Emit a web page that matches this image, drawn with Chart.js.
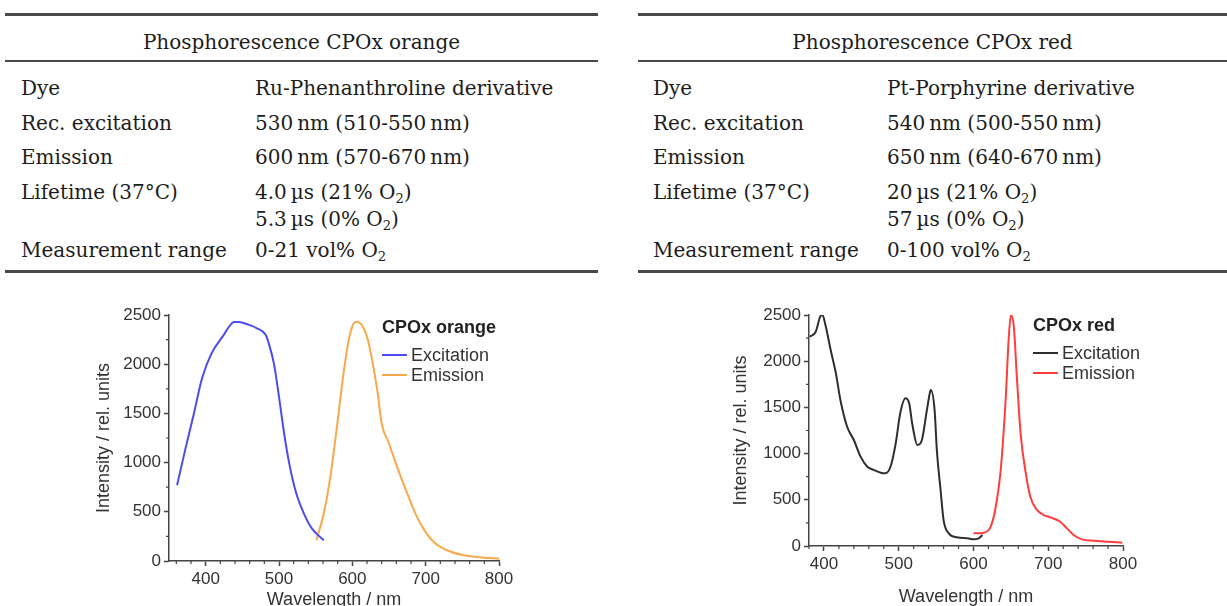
<!DOCTYPE html>
<html>
<head>
<meta charset="utf-8">
<script src="https://cdn.jsdelivr.net/npm/chart.js@4.4.0/dist/chart.umd.min.js"></script>
<style>
  html, body { margin: 0; padding: 0; background: #fff; overflow: hidden; width: 1227px; height: 606px; }
  .tbl { position: absolute; top: 0; height: 280px; font-family: 'DejaVu Serif', serif; font-size: 20px; color: #1c1c1c; }
  .rule { position: absolute; left: 0; right: 0; background: #4a4a4a; }
  .cell { position: absolute; white-space: nowrap; line-height: 1; transform: translateY(-50%); }
  .hdr { position: absolute; white-space: nowrap; line-height: 1; transform: translate(-50%, -50%); }
  sub { font-size: 0.66em; vertical-align: -0.3em; line-height: 0; }
  canvas { position: absolute; }
  .legend { position: absolute; font-family: 'Liberation Sans', Arial, sans-serif; font-size: 18px; color: #333; line-height: 1; }
  .legend .ttl { font-weight: bold; color: #222; margin-bottom: 9px; }
  .legend .row { display: flex; align-items: center; height: 20px; }
  .legend .sw { width: 25px; height: 2px; margin-right: 4px; }
</style>
</head>
<body>
<div id="tblOrange" class="tbl" style="left:5px; width:593px;"></div>
<div id="tblRed" class="tbl" style="left:638px; width:589px;"></div>

<canvas id="chartOrange" width="440" height="320" style="left:80px; top:300px;"></canvas>
<canvas id="chartRed" width="440" height="320" style="left:720px; top:300px;"></canvas>
<div id="legOrange" class="legend" style="left:382px; top:318px;"></div>
<div id="legRed" class="legend" style="left:1033px; top:316px;"></div>

<script>
// table text
const rowLabels = ['Dye', 'Rec. excitation', 'Emission', 'Lifetime (37°C)', '', 'Measurement range'];
const orangeTitle = 'Phosphorescence CPOx orange';
const orangeCells = ['Ru-Phenanthroline derivative', '530\u2009nm (510-550\u2009nm)', '600\u2009nm (570-670\u2009nm)',
  '4.0\u2009µs (21% O<sub>2</sub>)', '5.3\u2009µs (0% O<sub>2</sub>)', '0-21 vol% O<sub>2</sub>'];
const redTitle = 'Phosphorescence CPOx red';
const redCells = ['Pt-Porphyrine derivative', '540\u2009nm (500-550\u2009nm)', '650\u2009nm (640-670\u2009nm)',
  '20\u2009µs (21% O<sub>2</sub>)', '57\u2009µs (0% O<sub>2</sub>)', '0-100 vol% O<sub>2</sub>'];

// spectra (wavelength nm / intensity rel. units)
const wavelengthTicks = [400, 500, 600, 700, 800];
const intensityTicks = [0, 500, 1000, 1500, 2000, 2500];

const orangeExWl = [361, 373, 384, 395, 408, 423, 439, 445, 459, 470, 482, 486, 493, 500, 507, 514, 523, 534, 545, 561];
const orangeExI = [770, 1160, 1500, 1855, 2110, 2280, 2430, 2430, 2400, 2365, 2296, 2212, 2008, 1669, 1296, 990, 702, 482, 329, 210];
const orangeEmWl = [551, 561, 570, 579, 588, 595, 602, 606, 613, 620, 627, 634, 640, 650, 661, 675, 686, 697, 711, 729, 752, 779, 800];
const orangeEmI = [210, 482, 855, 1364, 1906, 2245, 2415, 2432, 2398, 2280, 2042, 1737, 1398, 1194, 957, 685, 482, 329, 193, 109, 58, 34, 24];

const redExWl = [381, 389, 395, 398, 402, 409, 416, 422, 431, 440, 449, 458, 467, 476, 482, 489, 496, 502, 509, 514, 518, 525, 531, 537, 542, 543, 548, 551, 556, 560, 567, 578, 592, 600, 607, 612];
const redExI = [2265, 2319, 2482, 2500, 2391, 2121, 1868, 1580, 1291, 1147, 967, 858, 822, 793, 786, 858, 1111, 1435, 1598, 1544, 1327, 1093, 1147, 1435, 1670, 1688, 1472, 1039, 606, 281, 137, 94, 83, 72, 83, 119];
const redEmWl = [600, 614, 623, 629, 636, 643, 647, 650, 654, 658, 663, 670, 676, 685, 694, 703, 716, 725, 734, 745, 761, 779, 799];
const redEmI = [137, 144, 209, 390, 786, 1580, 2229, 2500, 2373, 1832, 1219, 786, 534, 390, 335, 310, 263, 191, 119, 72, 58, 47, 36];

// ---- tables ----
function buildTable(el, title, cells, labelX, valueX) {
  const rowY = [88, 123, 157, 192, 219, 250];
  let html = '';
  html += '<div class="rule" style="top:13px;height:2.5px"></div>';
  html += '<div class="rule" style="top:60px;height:2px"></div>';
  html += '<div class="rule" style="top:270px;height:2.5px"></div>';
  html += `<div class="hdr" style="left:50%;top:42px">${title}</div>`;
  rowLabels.forEach((lab, i) => {
    if (lab) html += `<div class="cell" style="left:${labelX}px;top:${rowY[i]}px">${lab}</div>`;
    html += `<div class="cell" style="left:${valueX}px;top:${rowY[i]}px">${cells[i]}</div>`;
  });
  el.innerHTML = html;
}
buildTable(document.getElementById('tblOrange'), orangeTitle, orangeCells, 16, 250);
buildTable(document.getElementById('tblRed'), redTitle, redCells, 15, 249);

// ---- charts ----
const sans = "'Liberation Sans', Arial, sans-serif";
const axisColor = '#444';

const minorTicks = {
  id: 'minorTicks',
  afterDraw(chart) {
    const { ctx, chartArea, scales: { x, y } } = chart;
    ctx.save();
    ctx.strokeStyle = axisColor;
    ctx.lineWidth = 1.2;
    ctx.beginPath();
    for (let v = Math.ceil(x.min / 20) * 20; v < x.max; v += 20) {
      if (v % 100 === 0) continue;
      const px = x.getPixelForValue(v);
      ctx.moveTo(px, chartArea.bottom);
      ctx.lineTo(px, chartArea.bottom + 3);
    }
    for (let v = 250; v < y.max; v += 500) {
      const py = y.getPixelForValue(v);
      ctx.moveTo(chartArea.left, py);
      ctx.lineTo(chartArea.left - 3, py);
    }
    ctx.stroke();
    ctx.restore();
  }
};

function toPoints(wl, vals) {
  return wl.map((w, i) => ({ x: w, y: vals[i] }));
}

function makeChart(id, legendId, legendTitle, xMin, xHeight, rightPad, xTitlePad, yTitlePad, datasets) {
  const chart = new Chart(document.getElementById(id), {
    type: 'line',
    data: { datasets: datasets },
    plugins: [minorTicks],
    options: {
      responsive: false,
      animation: false,
      devicePixelRatio: 1,
      layout: { padding: { top: 15, right: rightPad, left: 0, bottom: 0 } },
      plugins: { legend: { display: false }, tooltip: { enabled: false } },
      elements: { point: { radius: 0 }, line: { borderWidth: 2, cubicInterpolationMode: 'monotone' } },
      scales: {
        x: {
          type: 'linear', min: xMin, max: 800,
          afterBuildTicks: s => { s.ticks = wavelengthTicks.map(v => ({ value: v })); },
          afterFit: s => { s.height = xHeight; s.paddingLeft = 0; s.paddingRight = 0; },
          border: { color: axisColor, width: 1.5 },
          grid: { drawOnChartArea: false, tickLength: 5, color: axisColor, tickWidth: 1.5 },
          ticks: { color: '#333', font: { family: sans, size: 17 }, padding: 3, maxRotation: 0, callback: v => String(v) },
          title: { display: true, text: 'Wavelength / nm', color: '#333', font: { family: sans, size: 18 }, padding: { top: 0, bottom: xTitlePad } }
        },
        y: {
          type: 'linear', min: 0, max: 2500,
          afterBuildTicks: s => { s.ticks = intensityTicks.map(v => ({ value: v })); },
          afterFit: s => { s.width = 89; s.paddingTop = 0; s.paddingBottom = 0; },
          border: { color: axisColor, width: 1.5 },
          grid: { drawOnChartArea: false, tickLength: 5, color: axisColor, tickWidth: 1.5 },
          ticks: { color: '#333', font: { family: sans, size: 17 }, padding: 3, callback: v => String(v) },
          title: { display: true, text: 'Intensity / rel. units', color: '#333', font: { family: sans, size: 18 }, padding: { top: yTitlePad, bottom: 0 } }
        }
      }
    }
  });

  // html legend built from the datasets
  let html = `<div class="ttl">${legendTitle}</div>`;
  chart.data.datasets.forEach(ds => {
    html += `<div class="row"><span class="sw" style="background:${ds.borderColor}"></span>${ds.label}</div>`;
  });
  document.getElementById(legendId).innerHTML = html;
  return chart;
}

makeChart('chartOrange', 'legOrange', 'CPOx orange', 350, 59, 21, 9, 13, [
  { label: 'Excitation', data: toPoints(orangeExWl, orangeExI), borderColor: '#4b4cf0' },
  { label: 'Emission', data: toPoints(orangeEmWl, orangeEmI), borderColor: '#f8a94b' }
]);

makeChart('chartRed', 'legRed', 'CPOx red', 380, 74, 37, 12, 10, [
  { label: 'Excitation', data: toPoints(redExWl, redExI), borderColor: '#2e2e2e' },
  { label: 'Emission', data: toPoints(redEmWl, redEmI), borderColor: '#ff3d3d' }
]);
</script>
</body>
</html>
